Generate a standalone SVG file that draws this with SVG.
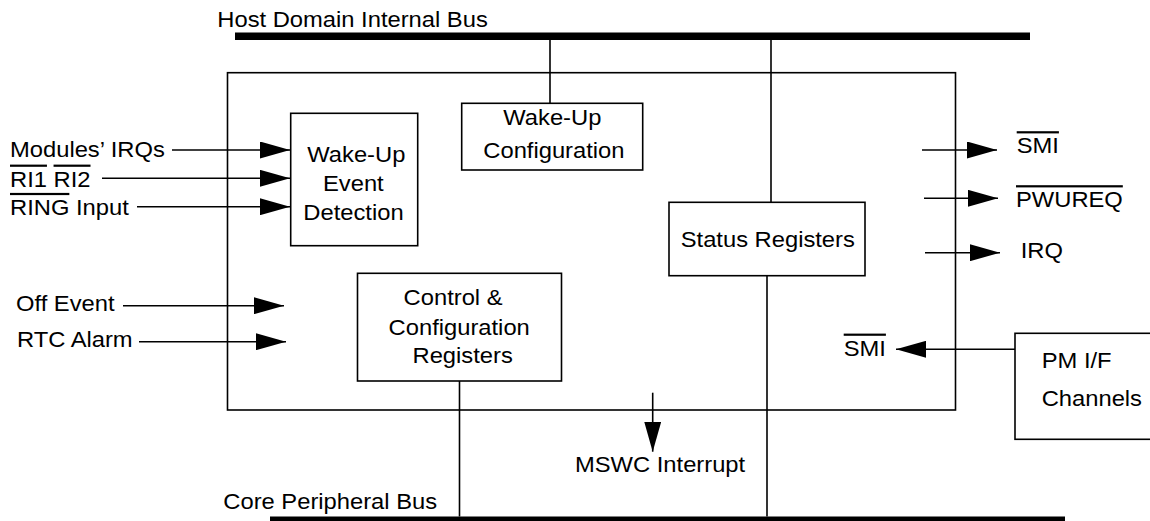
<svg xmlns="http://www.w3.org/2000/svg" width="1150" height="521" viewBox="0 0 1150 521">
<style>
  .box { fill: none; stroke: #000; stroke-width: 1.6; }
  .wire { fill: none; stroke: #000; stroke-width: 1.6; }
  .arr { marker-end: url(#ah); }
  .bus { fill: #000; }
  text { font-family: "Liberation Sans", Arial, sans-serif; font-size: 22px; fill: #000; }
  .ov { text-decoration: overline; }
</style>
<defs>
  <marker id="ah" markerUnits="userSpaceOnUse" markerWidth="30" markerHeight="17" viewBox="0 0 30 17" refX="30" refY="8.5" orient="auto">
    <path d="M0,0 L30,8.5 L0,17 z" fill="#000"/>
  </marker>
</defs>
<rect width="1150" height="521" fill="#fff"/>

<g id="host-bus">
  <rect class="bus" x="235" y="32.5" width="795" height="7.5"/>
  <text transform="translate(217.3,27) scale(1.08,1)">Host Domain Internal Bus</text>
</g>
<g id="core-bus">
  <rect class="bus" x="270" y="516.5" width="795" height="8"/>
  <text transform="translate(223.3,509) scale(1.08,1)">Core Peripheral Bus</text>
</g>

<g id="mswc-block">
  <rect class="box" x="227.5" y="72.7" width="728" height="337.3"/>
</g>

<g id="wake-up-event-detection">
  <rect class="box" x="290.7" y="113.3" width="127" height="132.4"/>
  <text transform="translate(307.3,161.7) scale(1.08,1)">Wake-Up</text>
  <text transform="translate(323,190.7) scale(1.08,1)">Event</text>
  <text transform="translate(303.3,220) scale(1.08,1)">Detection</text>
</g>

<g id="wake-up-configuration">
  <rect class="box" x="461.7" y="103.3" width="181" height="66.7"/>
  <text transform="translate(503.3,125) scale(1.08,1)">Wake-Up</text>
  <text transform="translate(483.3,158.3) scale(1.08,1)">Configuration</text>
</g>

<g id="status-registers">
  <rect class="box" x="669" y="202.3" width="196" height="73.4"/>
  <text transform="translate(680.7,246.7) scale(1.08,1)">Status Registers</text>
</g>

<g id="control-configuration-registers">
  <rect class="box" x="357.5" y="273.3" width="204" height="107.7"/>
  <text transform="translate(403.6,305) scale(1.08,1)">Control &amp;</text>
  <text transform="translate(388.6,335) scale(1.08,1)">Configuration</text>
  <text transform="translate(412.5,363.3) scale(1.08,1)">Registers</text>
</g>

<g id="pm-if-channels">
  <rect class="box" x="1015" y="333.3" width="140" height="106"/>
  <text transform="translate(1041.7,368.3) scale(1.08,1)">PM I/F</text>
  <text transform="translate(1041.7,406) scale(1.08,1)">Channels</text>
</g>

<g id="signal-labels">
  <text transform="translate(10,157) scale(1.08,1)">Modules’ IRQs</text>
  <text transform="translate(10,186.7) scale(1.08,1)"><tspan class="ov">RI1</tspan> <tspan class="ov">RI2</tspan></text>
  <text transform="translate(10,215) scale(1.08,1)"><tspan class="ov">RING</tspan> Input</text>
  <text transform="translate(16,310.7) scale(1.08,1)">Off Event</text>
  <text transform="translate(17,347.3) scale(1.08,1)">RTC Alarm</text>
  <text transform="translate(1016.7,153.3) scale(1.08,1)"><tspan class="ov">SMI</tspan></text>
  <text transform="translate(1016,207.3) scale(1.08,1)"><tspan class="ov">PWUREQ</tspan></text>
  <text transform="translate(1020.7,258.3) scale(1.08,1)">IRQ</text>
  <text transform="translate(843.7,355.7) scale(1.08,1)"><tspan class="ov">SMI</tspan></text>
  <text transform="translate(575,471.7) scale(1.08,1)">MSWC Interrupt</text>
</g>

<g id="connectors">
  <line class="wire" x1="550" y1="40" x2="550" y2="103.3"/>
  <line class="wire" x1="771" y1="40" x2="771" y2="202.3"/>
  <line class="wire" x1="767" y1="275.7" x2="767" y2="516.5"/>
  <line class="wire" x1="459.5" y1="381" x2="459.5" y2="516.5"/>
  <line class="wire arr" x1="172" y1="150" x2="290" y2="150"/>
  <line class="wire arr" x1="102" y1="178.3" x2="290" y2="178.3"/>
  <line class="wire arr" x1="137" y1="206.7" x2="290" y2="206.7"/>
  <line class="wire arr" x1="123" y1="305.7" x2="284" y2="305.7"/>
  <line class="wire arr" x1="139" y1="341.7" x2="286" y2="341.7"/>
  <line class="wire arr" x1="922" y1="150" x2="997" y2="150"/>
  <line class="wire arr" x1="924" y1="198.3" x2="998" y2="198.3"/>
  <line class="wire arr" x1="925" y1="252.7" x2="1000" y2="252.7"/>
  <line class="wire arr" x1="1015" y1="349.3" x2="896" y2="349.3"/>
  <line class="wire arr" x1="652.7" y1="392.7" x2="652.7" y2="451.7"/>
</g>
</svg>
